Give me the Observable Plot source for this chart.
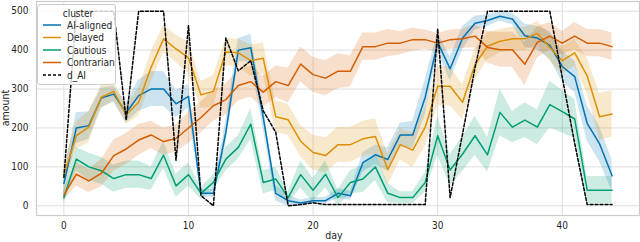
<!DOCTYPE html>
<html>
<head>
<meta charset="utf-8">
<script src="https://cdn.jsdelivr.net/npm/d3@7"></script>
<script src="https://cdn.jsdelivr.net/npm/@observablehq/plot@0.6"></script>
<style>
  html, body { margin: 0; padding: 0; background: #fff; }
  #chart { width: 640px; height: 242px; }
</style>
</head>
<body>
<div id="chart"></div>
<script>
// ---- data ----
const days = d3.range(0, 45);

const clusters = ["AI-aligned", "Delayed", "Cautious", "Contrarian"];
const colors = ["#0173B2", "#DE8F05", "#029E73", "#D55E00"];

const aiAligned = [57,200,206,277,287,239,283,300,300,262,281,
  32,32,189,400,406,227,32,13,7,13,
  13,32,26,111,131,119,182,182,279,420,
  352,431,469,476,487,480,437,431,412,358,
  332,212,159,77];
const aiAlignedCI = [30,40,35,25,20,25,40,45,45,35,30,
  10,10,30,30,35,30,20,15,8,8,
  8,12,12,25,25,30,30,35,45,25,
  30,30,18,15,12,15,30,30,35,40,
  40,45,45,40];

const delayed = [80,180,202,279,294,234,266,356,429,403,380,
  285,294,395,393,373,379,229,221,166,137,
  129,157,157,172,178,93,157,143,202,307,
  307,266,363,410,423,429,429,443,407,373,
  393,334,229,236];
const delayedCI = [25,35,40,30,25,25,35,40,35,35,40,
  35,40,35,35,40,40,40,40,40,45,
  45,45,45,45,45,40,40,45,50,50,
  50,45,40,35,30,30,30,30,35,35,
  35,45,60,60];

const cautious = [21,120,100,90,70,80,80,70,130,51,80,
  32,60,120,150,210,60,69,21,80,40,
  81,21,60,69,100,32,21,21,60,180,
  92,133,180,131,240,202,220,202,260,242,
  223,40,40,40];
const cautiousCI = [15,30,35,35,35,35,35,30,35,30,30,
  15,20,30,30,40,30,30,15,35,30,
  35,20,30,35,35,25,15,15,25,50,
  40,45,50,45,60,40,45,45,60,55,
  50,35,35,35];

const contrarian = [28,81,64,83,129,146,169,182,165,173,200,
  227,257,273,309,319,292,319,309,364,337,
  328,346,346,409,409,418,418,427,427,418,
  427,429,436,407,401,401,364,420,436,418,
  436,418,418,409];
const contrarianCI = [15,30,30,35,40,40,40,35,35,35,40,
  40,40,40,40,40,40,40,45,45,45,
  45,45,40,35,35,35,30,30,25,25,
  25,25,30,40,45,45,55,40,35,30,
  35,35,35,35];

const dAI = [73,500,500,500,500,220,500,500,500,117,463,
  26,0,431,347,373,244,189,0,3,8,
  3,3,3,3,3,3,3,3,3,455,
  21,185,355,500,500,500,500,500,500,330,
  160,3,3,3];

const xTicks = [0, 10, 20, 30, 40];
const yTicks = [0, 100, 200, 300, 400, 500];
const xLabel = "day";
const yLabel = "amount";
const legendTitle = "cluster";
const aiLabel = "d_AI";

// ---- build table ----
const seriesValues = [aiAligned, delayed, cautious, contrarian];
const seriesCI = [aiAlignedCI, delayedCI, cautiousCI, contrarianCI];
const rows = [];
clusters.forEach((c, i) => {
  days.forEach((d, j) => {
    const v = seriesValues[i][j], h = seriesCI[i][j];
    rows.push({cluster: c, day: d, value: v, lo: Math.max(v - h, -5), hi: v + h});
  });
});
const aiRows = days.map((d, j) => ({day: d, value: dAI[j]}));

const textColor = "#262626";
const gridColor = "#dedede";
const FONT = "'DejaVu Sans Condensed', 'DejaVu Sans', sans-serif";

const chart = Plot.plot({
  width: 640,
  height: 242,
  marginLeft: 36,
  marginRight: 1,
  marginTop: 1,
  marginBottom: 27,
  style: {fontFamily: FONT, fontSize: "10px", color: textColor, background: "#fff"},
  x: {domain: [-2.2, 46.2]},
  y: {domain: [-25, 525]},
  color: {domain: clusters, range: colors},
  marks: [
    Plot.gridX(xTicks, {stroke: gridColor, strokeOpacity: 1, strokeWidth: 1}),
    Plot.gridY(yTicks, {stroke: gridColor, strokeOpacity: 1, strokeWidth: 1}),
    Plot.frame({stroke: "#cccccc", strokeWidth: 1.2}),
    Plot.axisX(xTicks, {tickSize: 0, tickPadding: 6, label: null, fill: textColor}),
    Plot.axisY(yTicks, {tickSize: 0, tickPadding: 8, label: null, fill: textColor}),
    Plot.areaY(rows, {x: "day", y1: "lo", y2: "hi", z: "cluster", fill: "cluster", fillOpacity: 0.2}),
    Plot.lineY(rows, {x: "day", y: "value", z: "cluster", stroke: "cluster", strokeWidth: 1.5}),
    Plot.lineY(aiRows, {x: "day", y: "value", stroke: "#000", strokeWidth: 1.5, strokeDasharray: "3,2"})
  ]
});

document.getElementById("chart").appendChild(chart);

const svg = d3.select(chart);

// ---- axis titles ----
svg.append("text").attr("x", 334).attr("y", 239).attr("text-anchor", "middle")
  .style("font-family", FONT).style("font-size", "10.5px")
  .attr("fill", textColor).text(xLabel);
svg.append("text").attr("transform", "translate(8.5,108) rotate(-90)").attr("text-anchor", "middle")
  .style("font-family", FONT).style("font-size", "10.5px")
  .attr("fill", textColor).text(yLabel);

// ---- legend (seaborn style, inside upper-left) ----
const lg = svg.append("g").attr("class", "legend")
  .style("font-family", FONT)
  .style("font-size", "10px");
lg.append("rect").attr("x", 37.5).attr("y", 4.5).attr("width", 78).attr("height", 80)
  .attr("rx", 2.5).attr("fill", "#fff").attr("fill-opacity", 0.8)
  .attr("stroke", "#cccccc").attr("stroke-width", 1);
lg.append("text").attr("x", 78).attr("y", 16.5).attr("text-anchor", "middle")
  .attr("fill", textColor).text(legendTitle);
const legendItems = clusters.map((c, i) => ({label: c, color: colors[i], dash: null}))
  .concat([{label: aiLabel, color: "#000", dash: "3,2"}]);
legendItems.forEach((it, i) => {
  const cy = 25 + i * 12.5;
  lg.append("line").attr("x1", 43).attr("x2", 61).attr("y1", cy).attr("y2", cy)
    .attr("stroke", it.color).attr("stroke-width", 1.5)
    .attr("stroke-dasharray", it.dash);
  lg.append("text").attr("x", 67).attr("y", cy + 3.7).attr("text-anchor", "start")
    .attr("fill", textColor).text(it.label);
});
</script>
</body>
</html>
